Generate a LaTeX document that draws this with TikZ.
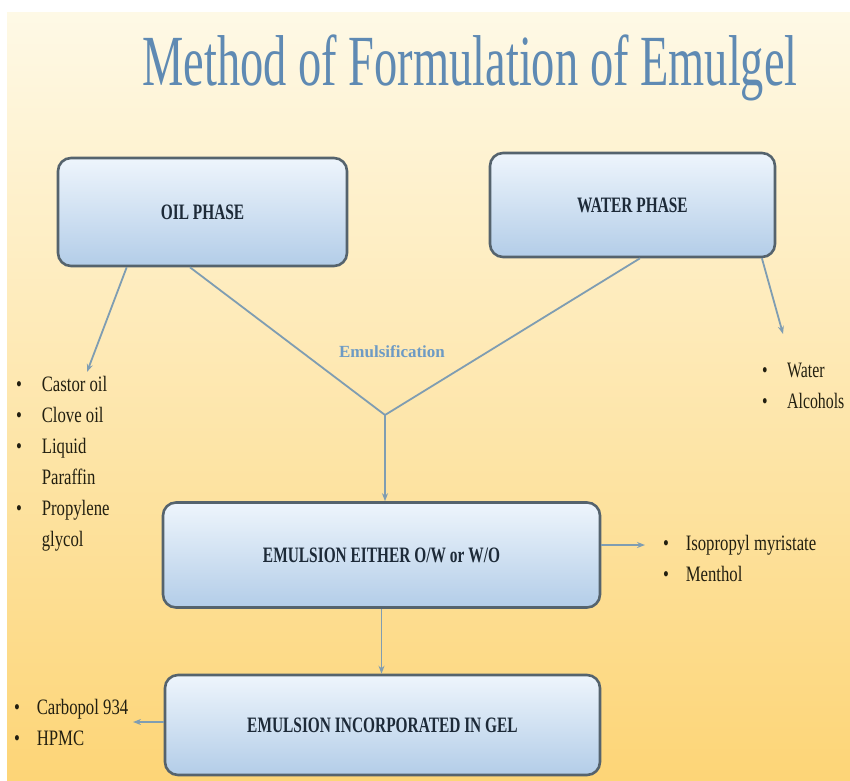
\documentclass[tikz,border=0pt]{standalone}
\usepackage{fontspec}
\setmainfont{Liberation Serif}
\usepackage{graphicx}
\usetikzlibrary{arrows.meta,calc}
\definecolor{bgtop}{HTML}{FEF9E6}
\definecolor{bgbot}{HTML}{FDD577}
\definecolor{boxtop}{HTML}{EEF5FC}
\definecolor{boxbot}{HTML}{B3CDE8}
\definecolor{boxedge}{HTML}{55636D}
\definecolor{boxtext}{HTML}{1D2A38}
\definecolor{itemclr}{HTML}{221F10}
\definecolor{linkclr}{HTML}{7F9DB2}
\definecolor{titleclr}{HTML}{5F8AB3}
\definecolor{emulclr}{HTML}{6E9BC4}
\newcommand{\condtext}[2][0.7]{\scalebox{#1}[1]{#2}}
\tikzset{
  phase/.style={draw=boxedge, line width=2.6pt, rounded corners=13pt,
    top color=boxtop, bottom color=boxbot, text=boxtext, inner sep=0pt,
    font=\fontsize{22}{26}\selectfont\bfseries},
  link/.style={draw=linkclr, line width=1.8pt},
  lnk/.style={link, -{Stealth[length=8pt,width=6pt]}},
  items/.style={anchor=base west, inner sep=0pt, text=itemclr,
    font=\fontsize{22}{31}\selectfont},
}

\begin{document}
\begin{tikzpicture}[x=1pt,y=-1pt]
  \useasboundingbox (0,0) rectangle (850,780);
  \shade[top color=bgtop, bottom color=bgbot] (7,12) rectangle (850,780);

  % --- title ---
  \node[text=titleclr, font=\fontsize{72}{80}\selectfont, anchor=base] (title) at (470,85)
    {\condtext[0.645]{Method of Formulation of Emulgel}};

  % --- boxes ---
  \node[phase, minimum width=289pt, minimum height=108pt] (oil) at (202.5,212) {\condtext{OIL PHASE}};
  \node[phase, minimum width=285pt, minimum height=104pt] (water) at (632.5,205) {\condtext{WATER PHASE}};
  \node[phase, minimum width=437pt, minimum height=105pt] (emul) at (381.5,555) {\condtext{EMULSION EITHER O/W or W/O}};
  \node[phase, minimum width=435pt, minimum height=100pt] (gel) at (382.5,725) {\condtext{EMULSION INCORPORATED IN GEL}};

  % --- ingredient lists ---
  \node[items] (oillist) at (16,391) {\condtext[0.76]{\begin{tabular}[t]{@{}l@{\hspace{26pt}}l@{}}
    \textbullet & Castor oil\\ \textbullet & Clove oil\\ \textbullet & Liquid\\ & Paraffin\\
    \textbullet & Propylene\\ & glycol\end{tabular}}};
  \node[items] (waterlist) at (762,377) {\condtext[0.72]{\begin{tabular}[t]{@{}l@{\hspace{27pt}}l@{}}
    \textbullet & Water\\ \textbullet & Alcohols\end{tabular}}};
  \node[items] (addlist) at (663,550) {\condtext[0.76]{\begin{tabular}[t]{@{}l@{\hspace{22pt}}l@{}}
    \textbullet & Isopropyl myristate\\ \textbullet & Menthol\end{tabular}}};
  \node[items] (gellist) at (14,714) {\condtext[0.76]{\begin{tabular}[t]{@{}l@{\hspace{22pt}}l@{}}
    \textbullet & Carbopol 934\\ \textbullet & HPMC\end{tabular}}};

  \node[text=emulclr, font=\fontsize{17}{20}\selectfont\bfseries] (emlabel) at (392,352) {Emulsification};

  % --- connectors ---
  \coordinate (meet) at (385,415);
  \coordinate (oilend) at (87,372);
  \coordinate (waterend) at (783,334);
  \coordinate (addend) at (645,545);
  \coordinate (gelend) at (133,722);
  \draw[lnk] ($(oil.south west)!0.24!(oil.south east)$) -- (oilend);
  \draw[link] ($(oil.south west)!0.457!(oil.south east)$) -- (meet);
  \draw[link] ($(water.south west)!0.526!(water.south east)$) -- (meet);
  \draw[lnk] ($(water.south west)!0.95!(water.south east)$) -- (waterend);
  \draw[lnk] (meet) -- (meet |- emul.north);
  \draw[lnk] ($(emul.east)+(0,-10)$) -- (addend);
  \draw[lnk] (emul.south) -- (emul.south |- gel.north);
  \draw[lnk] ($(gel.west)+(0,-3)$) -- (gelend);
\end{tikzpicture}
\end{document}
